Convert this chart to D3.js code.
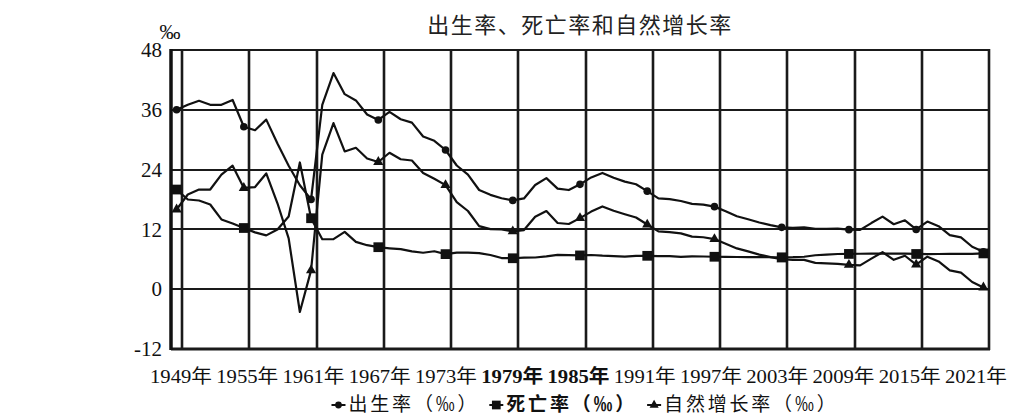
<!DOCTYPE html>
<html>
<head>
<meta charset="utf-8">
<script src="https://cdn.jsdelivr.net/npm/d3@7"></script>
<style>
  html, body { margin: 0; padding: 0; background: #fff; overflow: hidden; }
  svg { display: block; }
  svg text { font-family: "Liberation Serif", "DejaVu Serif", "Noto Sans CJK SC", serif; fill: #111; }
  .cjk { font-family: "Noto Sans CJK SC", sans-serif; }
</style>
</head>
<body>
<script>
// 年份 1949-2021
const years = d3.range(1949, 2022);

// 出生率 ‰
const birth = [36.00, 37.00, 37.80, 37.00, 37.00, 37.97, 32.60, 31.90, 34.03, 29.22,
  24.78, 20.86, 18.02, 37.01, 43.37, 39.14, 37.88, 35.05, 33.96, 35.59,
  34.11, 33.43, 30.65, 29.77, 27.93, 24.82, 23.01, 19.91, 18.93, 18.25,
  17.82, 18.21, 20.91, 22.28, 20.19, 19.90, 21.04, 22.43, 23.33, 22.37,
  21.58, 21.06, 19.68, 18.24, 18.09, 17.70, 17.12, 16.98, 16.57, 15.64,
  14.64, 14.03, 13.38, 12.86, 12.41, 12.29, 12.40, 12.09, 12.10, 12.14,
  11.95, 11.90, 13.27, 14.57, 13.03, 13.83, 11.99, 13.57, 12.64, 10.86,
  10.41, 8.52, 7.52];

// 死亡率 ‰
const death = [20.00, 18.00, 17.80, 17.00, 14.00, 13.18, 12.28, 11.40, 10.80, 11.98,
  14.59, 25.43, 14.24, 10.02, 10.04, 11.50, 9.50, 8.83, 8.43, 8.21,
  8.03, 7.60, 7.32, 7.61, 7.04, 7.34, 7.32, 7.25, 6.87, 6.25,
  6.21, 6.34, 6.36, 6.60, 6.90, 6.82, 6.78, 6.86, 6.72, 6.64,
  6.54, 6.67, 6.70, 6.64, 6.64, 6.49, 6.57, 6.56, 6.51, 6.50,
  6.46, 6.45, 6.43, 6.41, 6.40, 6.42, 6.51, 6.81, 6.93, 7.06,
  7.08, 7.11, 7.14, 7.13, 7.13, 7.12, 7.07, 7.04, 7.06, 7.08,
  7.09, 7.07, 7.18];

// 自然增长率 ‰
const growth = [16.00, 19.00, 20.00, 20.00, 23.00, 24.79, 20.32, 20.50, 23.23, 17.24,
  10.19, -4.57, 3.78, 26.99, 33.33, 27.64, 28.38, 26.22, 25.53, 27.38,
  26.08, 25.83, 23.33, 22.16, 20.89, 17.48, 15.69, 12.66, 12.06, 12.00,
  11.61, 11.87, 14.55, 15.68, 13.29, 13.08, 14.26, 15.57, 16.61, 15.73,
  15.04, 14.39, 12.98, 11.60, 11.45, 11.21, 10.55, 10.42, 10.06, 9.14,
  8.18, 7.58, 6.95, 6.45, 6.01, 5.87, 5.89, 5.28, 5.17, 5.08,
  4.87, 4.79, 6.13, 7.43, 5.90, 6.71, 4.93, 6.53, 5.58, 3.78,
  3.32, 1.45, 0.34];

const markYears = [1949, 1955, 1961, 1967, 1973, 1979, 1985, 1991, 1997, 2003, 2009, 2015, 2021];
const gridYears = [1949.5, 1955.5, 1961.5, 1967.5, 1973.5, 1979.5, 1985.5, 1991.5, 1997.5, 2003.5, 2009.5, 2015.5, 2021.5];
const yTicks = [-12, 0, 12, 24, 36, 48];
const xTickLabels = ['1949年', '1955年', '1961年', '1967年', '1973年', '1979年', '1985年',
  '1991年', '1997年', '2003年', '2009年', '2015年', '2021年'];
const boldLabels = ['1979年', '1985年'];

const title = '出生率、死亡率和自然增长率';
const seriesNames = ['出生率（‰）', '死亡率（‰）', '自然增长率（‰）'];

const W = 1013, H = 419;
const plot = { left: 171, right: 989, top: 50, bottom: 349 };

const svg = d3.select('body').append('svg')
  .attr('width', W)
  .attr('height', H);

const x = d3.scaleLinear().domain([1948.5, 2021.5]).range([plot.left, plot.right]);
const y = d3.scaleLinear().domain([-12, 48]).range([plot.bottom, plot.top]);

// grid
const grid = svg.append('g');
grid.selectAll('line.v')
  .data(gridYears)
  .enter().append('line')
  .attr('class', 'v')
  .attr('x1', function(d) { return Math.round(x(d)); })
  .attr('x2', function(d) { return Math.round(x(d)); })
  .attr('y1', y(48) - 1)
  .attr('y2', y(-12) + 1)
  .attr('stroke', '#1a1a1a')
  .attr('stroke-width', 2.6);
grid.selectAll('line.h')
  .data(yTicks)
  .enter().append('line')
  .attr('class', 'h')
  .attr('x1', x(1948.5))
  .attr('x2', x(2021.5) + 1)
  .attr('y1', function(d) { return Math.round(y(d)); })
  .attr('y2', function(d) { return Math.round(y(d)); })
  .attr('stroke', '#1a1a1a')
  .attr('stroke-width', function(d) { return d === -12 ? 2.8 : 2.2; });
grid.append('line')
  .attr('x1', x(1948.5)).attr('x2', x(1948.5))
  .attr('y1', y(48) - 1).attr('y2', y(-12) + 1)
  .attr('stroke', '#111')
  .attr('stroke-width', 3.5);

// y labels
const yAxis = d3.axisLeft(y).tickValues(yTicks).tickSize(0).tickPadding(8);
const gy = svg.append('g')
  .attr('transform', 'translate(' + (plot.left - 1) + ',0)')
  .call(yAxis);
gy.select('.domain').remove();
gy.selectAll('.tick text').attr('font-size', 21).attr('fill', '#111')
  .text(function(d) { return d < 0 ? '-' + Math.abs(d) : d; });

// x labels
const xl = d3.scalePoint().domain(xTickLabels).range([181, 976]);
svg.append('g').selectAll('text')
  .data(xTickLabels)
  .enter().append('text')
  .attr('x', function(d) { return xl(d); })
  .attr('y', 383)
  .attr('text-anchor', 'middle')
  .attr('font-size', 19)
  .attr('font-weight', function(d) { return boldLabels.indexOf(d) >= 0 ? 'bold' : 'normal'; })
  .attr('textLength', 62)
  .attr('lengthAdjust', 'spacingAndGlyphs')
  .text(function(d) { return d; });

// unit
svg.append('text')
  .attr('x', 170).attr('y', 39)
  .attr('text-anchor', 'middle')
  .attr('font-size', 21)
  .text('‰');

// title
svg.append('text')
  .attr('class', 'cjk')
  .attr('x', (plot.left + plot.right) / 2)
  .attr('y', 33)
  .attr('text-anchor', 'middle')
  .attr('font-size', 22)
  .attr('letter-spacing', 1.5)
  .style('fill', '#222')
  .text(title);

// lines
const series = [
  { name: seriesNames[0], values: birth, symbol: d3.symbolCircle, size: 45 },
  { name: seriesNames[1], values: death, symbol: d3.symbolSquare, size: 95 },
  { name: seriesNames[2], values: growth, symbol: d3.symbolTriangle, size: 45 }
];

const line = d3.line()
  .x(function(d, i) { return x(years[i]); })
  .y(function(d) { return y(d); });

series.forEach(function(s) {
  svg.append('path')
    .datum(s.values)
    .attr('fill', 'none')
    .attr('stroke', '#111')
    .attr('stroke-width', 2.2)
    .attr('stroke-linejoin', 'round')
    .attr('d', line);

  svg.append('g').selectAll('path')
    .data(markYears)
    .enter().append('path')
    .attr('transform', function(yr) {
      return 'translate(' + x(yr) + ',' + y(s.values[years.indexOf(yr)]) + ')';
    })
    .attr('d', d3.symbol().type(s.symbol).size(s.size))
    .attr('fill', '#111');
});

// legend
const legend = svg.append('g');
let lx = 0;
series.forEach(function(s, i) {
  const item = legend.append('g').attr('transform', 'translate(' + lx + ',0)');
  item.append('line')
    .attr('x1', 0).attr('x2', 14)
    .attr('y1', 0).attr('y2', 0)
    .attr('stroke', '#111').attr('stroke-width', 2);
  item.append('path')
    .attr('transform', 'translate(7,0)')
    .attr('d', d3.symbol().type(s.symbol).size(s.size * 0.8))
    .attr('fill', '#111');
  const t = item.append('text')
    .attr('class', 'cjk')
    .attr('x', 17)
    .attr('y', 6)
    .attr('font-size', 19)
    .attr('letter-spacing', 2.8)
    .attr('font-weight', i === 1 ? 'bold' : 'normal')
    .text(s.name);
  lx += 17 + t.node().getComputedTextLength() + 10;
});
const lw = lx - 10;
legend.attr('transform', 'translate(' + (585 - lw / 2) + ',405)');
</script>
</body>
</html>
